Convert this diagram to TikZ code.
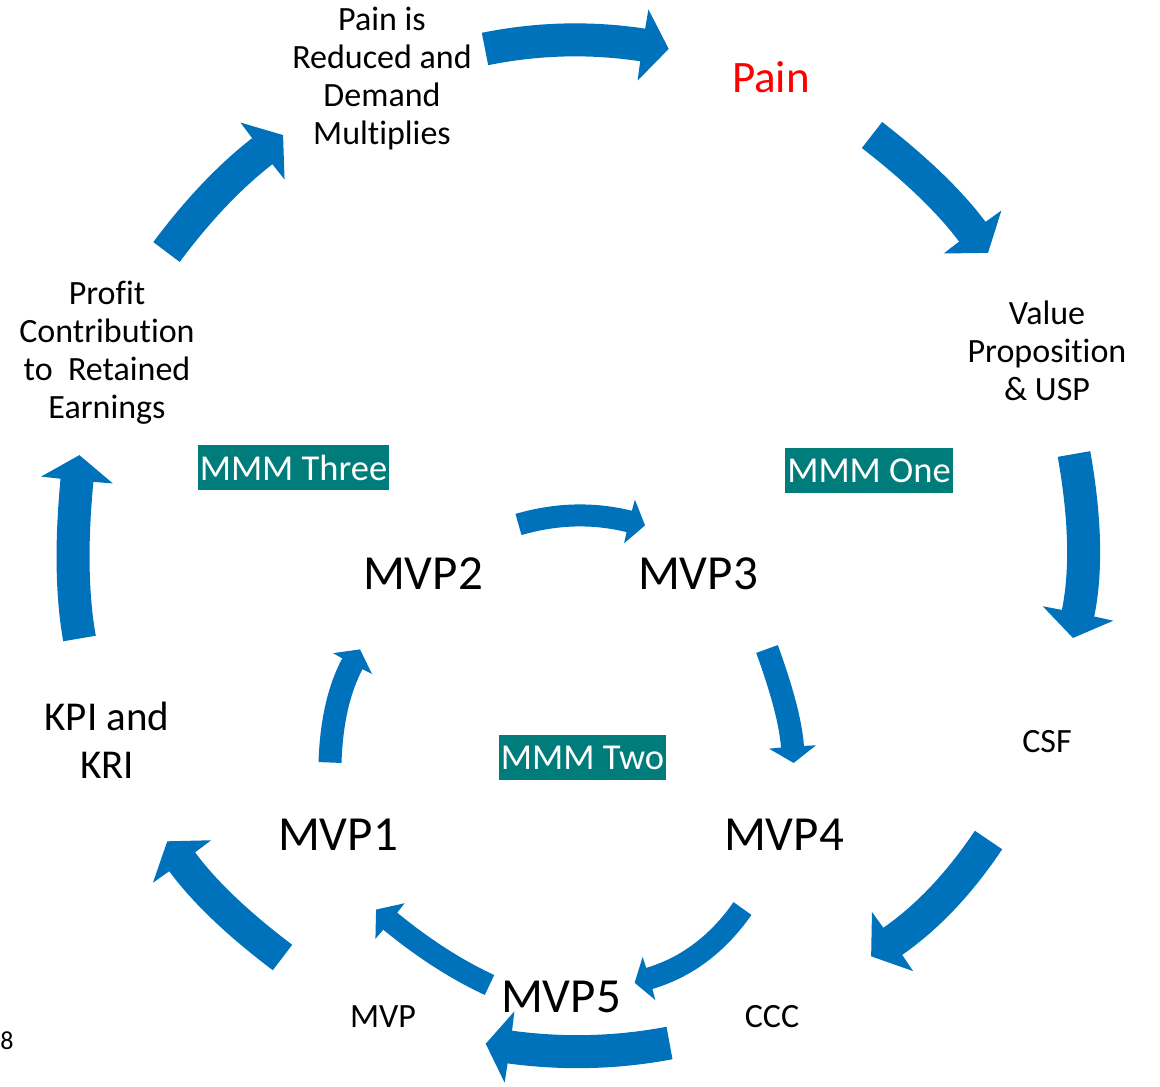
\documentclass[tikz,border=0pt]{standalone}
\usepackage{fontspec}
\setmainfont[Ligatures={NoCommon}]{Carlito}
\usetikzlibrary{calc}
\definecolor{arrowblue}{RGB}{0,114,188}
\definecolor{boxteal}{RGB}{0,125,122}
\definecolor{painred}{RGB}{255,0,0}
\newcommand\blockarrow[6]{%
  \draw[arrowbody, line width=#6] (#1) .. controls ($(#1)!0.6667!(#2)$) and ($(#3)!0.6667!(#2)$) .. (#3);
  \fill[arrowblue] ($(#3)!#5!90:(#2)$) -- ($(#3)!-#4!(#2)$) -- ($(#3)!#5!-90:(#2)$) -- ($(#3)!0.6pt!(#2)$) -- cycle;
}
\begin{document}
\begin{tikzpicture}[x=1pt,y=-1pt,
  arrowbody/.style={draw=arrowblue, line cap=butt},
  lbl/.style={font=\fontsize{34}{38}\selectfont, align=center, inner sep=0pt, text=black},
  big/.style={font=\fontsize{49}{54}\selectfont, inner sep=0pt, text=black},
  mmm/.style={fill=boxteal, text=white, font=\fontsize{36.5}{40}\selectfont, inner xsep=2pt, inner ysep=0pt, minimum height=45pt}]
\useasboundingbox (0,0) rectangle (1160,1087);
\fill[white] (0,0) rectangle (1160,1087);

% outer cycle
\blockarrow{485,49}{564,33}{643,45}{26pt}{36pt}{33pt}
\blockarrow{872,135}{939,187}{972.5,232}{26pt}{36pt}{33pt}
\blockarrow{1074,454}{1091,550}{1078,613.5}{25pt}{36pt}{33pt}
\blockarrow{988.5,840}{945,905}{892.5,941.5}{26pt}{36pt}{33pt}
\blockarrow{669.5,1043}{590,1058}{509.5,1047}{24pt}{36pt}{33pt}
\blockarrow{282.5,957.5}{214.5,906}{182,861.5}{25pt}{36pt}{32pt}
\blockarrow{79.5,638.5}{68,574}{77,480}{25pt}{36pt}{33pt}
\blockarrow{166.5,252}{213.5,189}{262.5,151}{26pt}{36pt}{33pt}

% inner cycle
\blockarrow{518.5,524.5}{575,508}{629.5,521.5}{16pt}{22.5pt}{22pt}
\blockarrow{330,762.5}{332,702}{352.5,663.5}{16pt}{22pt}{23pt}
\blockarrow{767,649}{790,712}{792.5,747}{16pt}{23.5pt}{23pt}
\blockarrow{489.5,985}{440,962}{390,921}{18pt}{23pt}{22pt}
\blockarrow{742.5,908.5}{705,962}{649,978.5}{15pt}{22.5pt}{22pt}

% outer labels
\node[lbl] (reduced) at (382,79) {Pain is\\Reduced and\\Demand\\Multiplies};
\node[lbl, text=painred, font=\fontsize{45}{50}\selectfont] (pain) at (771,77) {Pain};
\node[lbl] (value) at (1047,351) {Value\\Proposition\\\&\ USP};
\node[lbl] (csf) at (1047,742) {CSF};
\node[lbl] (ccc) at (772,1017) {CCC};
\node[lbl] (mvp) at (383,1017) {MVP};
\node[lbl, font=\fontsize{41}{48}\selectfont] (kpi) at (107,740) {KPI and\\KRI};
\node[lbl] (profit) at (107,353) {Profit\\Contribution\\to\ \ Retained\\Earnings};

% inner labels
\node[big] (mvp2) at (423,574) {MVP2};
\node[big] (mvp3) at (698,574) {MVP3};
\node[big] (mvp1) at (338,835) {MVP1};
\node[big] (mvp4) at (784,835) {MVP4};
\node[big] (mvp5) at (561,997) {MVP5};

% MMM boxes
\node[mmm] (three) at (293.5,467.5) {MMM Three};
\node[mmm] (one) at (869,470.5) {MMM One};
\node[mmm] (two) at (582.5,757.5) {MMM Two};

\node[lbl, font=\fontsize{26}{28}\selectfont] (page) at (7,1041) {8};
\end{tikzpicture}
\end{document}
